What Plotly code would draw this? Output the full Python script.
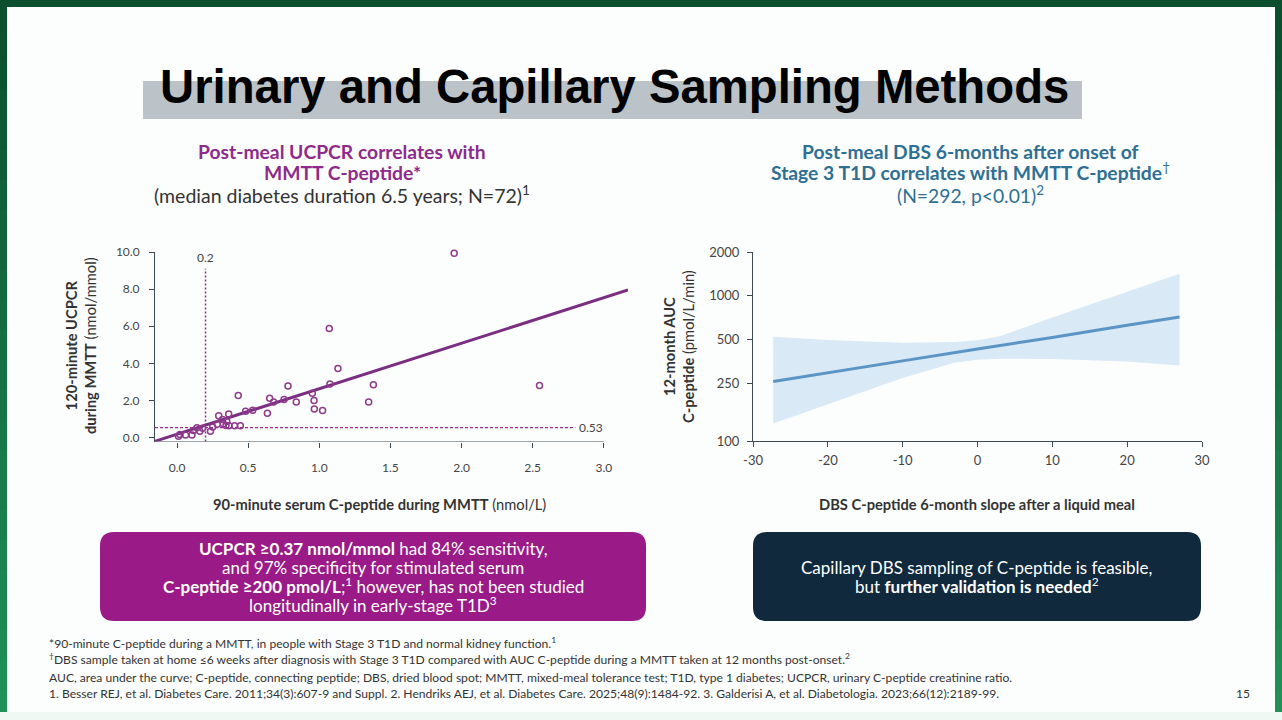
import plotly.graph_objects as go

W = 1282
H = 720
BODY_FONT = "Lato, Open Sans, sans-serif"

# left chart
ucpcr_x = [0.01, 0.02, 0.06, 0.105, 0.115, 0.14, 0.16, 0.18, 0.235, 0.25, 0.283, 0.293,
           0.32, 0.325, 0.35, 0.344, 0.363, 0.365, 0.405, 0.445, 0.43, 0.482, 0.532,
           0.635, 0.651, 0.679, 0.752, 0.78, 0.838, 0.951, 0.963, 0.965, 1.023, 1.07,
           1.075, 1.131, 1.347, 1.38, 1.948, 2.548]
ucpcr_y = [0.07, 0.16, 0.13, 0.14, 0.38, 0.52, 0.34, 0.50, 0.34, 0.56, 0.72, 1.17,
           0.97, 0.74, 0.86, 0.65, 1.26, 0.63, 0.63, 0.63, 2.27, 1.42, 1.47,
           1.31, 2.12, 1.92, 2.05, 2.77, 1.92, 2.39, 2.0, 1.53, 1.46, 5.88,
           2.88, 3.72, 1.92, 2.84, 9.93, 2.80]
fit_x = [-0.155, 3.17]
fit_y = [-0.2, 7.95]
cut_x = [0.2, 0.2]
cut_x_y = [-0.216, 9.1]
cut_y_x = [-0.155, 2.8]
cut_y = [0.53, 0.53]
left_xticks = [0, 0.5, 1, 1.5, 2, 2.5, 3]
left_yticks = [0, 2, 4, 6, 8, 10]

# right chart
slope = [-27.3, -20, -10, 0, 10, 20, 27]
auc = [257, 296, 356, 430, 516, 627, 715]
band_x = [-27.3, -20, -10, -3, 0, 3, 10, 20, 27]
band_upper = [522, 495, 475, 480, 493, 527, 708, 1060, 1415]
band_lower = [132, 178, 271, 347, 362, 369, 367, 352, 331]
right_xticks = [-30, -20, -10, 0, 10, 20, 30]
right_yticks = [100, 250, 500, 1000, 2000]


def px(x):
    return x / W


def py(y):
    return 1 - y / H


def rect(x0, y0, x1, y1, color):
    return dict(type="rect", xref="paper", yref="paper", x0=px(x0), x1=px(x1), y0=py(y0), y1=py(y1),
                fillcolor=color, line_width=0, layer="below")


def round_box(x0, y0, x1, y1, r, color):
    path = (f"M {px(x0 + r)} {py(y0)} L {px(x1 - r)} {py(y0)} Q {px(x1)} {py(y0)} {px(x1)} {py(y0 + r)} "
            f"L {px(x1)} {py(y1 - r)} Q {px(x1)} {py(y1)} {px(x1 - r)} {py(y1)} "
            f"L {px(x0 + r)} {py(y1)} Q {px(x0)} {py(y1)} {px(x0)} {py(y1 - r)} "
            f"L {px(x0)} {py(y0 + r)} Q {px(x0)} {py(y0)} {px(x0 + r)} {py(y0)} Z")
    return dict(type="path", xref="paper", yref="paper", path=path, fillcolor=color, line_width=0, layer="below")


def label(x, y, text, size=13, color="#333333", anchor="center", angle=0, family=BODY_FONT):
    return dict(xref="paper", yref="paper", x=px(x), y=py(y), text=text, showarrow=False,
                xanchor=anchor, yanchor="middle", align=anchor if anchor != "center" else "center",
                textangle=angle, font=dict(family=family, size=size, color=color))


# green frame, darker towards the top
shapes = [rect(0, 0, W, 7, "#0b4f2e")]
for i in range(24):
    t = i / 23
    c = f"rgb({int(11 + t * 22)},{int(79 + t * 66)},{int(46 + t * 43)})"
    y0 = i * 30
    shapes.append(rect(0, y0, 7, y0 + 30, c))
    shapes.append(rect(1275, y0, W, y0 + 30, c))
shapes += [
    rect(0, 712, W, H, "#f0f8f4"),
    rect(143, 81, 1082, 119, "#bcc3c8"),
    round_box(100, 532, 646, 621, 14, "#9a1b87"),
    round_box(753, 532, 1201, 621, 14, "#10293d"),
    dict(type="line", xref="x", yref="y", x0=-0.155, x1=3.0, y0=-0.216, y1=-0.216,
         line=dict(color="#3c4a54", width=1)),
]

PURPLE = "#8e2a8b"
BLUE = "#2f6f93"
annotations = [
    label(614.5, 86, "<b>Urinary and Capillary Sampling Methods</b>", size=47.3, color="#000000",
          family="Liberation Sans, Arial, sans-serif"),
    label(342, 151, "<b>Post-meal UCPCR correlates with</b>", size=19.3, color=PURPLE),
    label(342, 172, "<b>MMTT C-peptide*</b>", size=19.3, color=PURPLE),
    label(342, 195, "(median diabetes duration 6.5 years; N=72)<sup>1</sup>", size=19.5),
    label(970, 151, "<b>Post-meal DBS 6-months after onset of</b>", size=19.3, color=BLUE),
    label(970, 171, "<b>Stage 3 T1D correlates with MMTT C-peptide</b><sup>†</sup>", size=19.3, color=BLUE),
    label(970, 195, "(N=292, p&lt;0.01)<sup>2</sup>", size=19.3, color=BLUE),
    label(80, 346, "<b>120-minute UCPCR</b><br><b>during MMTT</b> (nmol/mmol)", size=14.7, angle=-90),
    label(678, 347, "<b>12-month AUC</b><br><b>C-peptide</b> (pmol/L/min)", size=14.7, angle=-90),
    label(379, 504, "<b>90-minute serum C-peptide during MMTT</b> (nmol/L)", size=14.7),
    label(977, 504, "<b>DBS C-peptide 6-month slope after a liquid meal</b>", size=14.7),
    dict(xref="x", yref="y", x=0.2, y=9.7, text="0.2", showarrow=False,
         font=dict(family=BODY_FONT, size=12, color="#444444")),
    dict(xref="x", yref="y", x=2.8, y=0.53, text="0.53", showarrow=False, xanchor="left", xshift=2,
         font=dict(family=BODY_FONT, size=12, color="#444444")),
    label(373, 548, "<b>UCPCR ≥0.37 nmol/mmol</b> had 84% sensitivity,", size=17, color="#ffffff"),
    label(373, 567, "and 97% specificity for stimulated serum", size=17, color="#ffffff"),
    label(373, 585, "<b>C-peptide ≥200 pmol/L</b>;<sup>1</sup> however, has not been studied", size=17, color="#ffffff"),
    label(373, 604, "longitudinally in early-stage T1D<sup>3</sup>", size=17, color="#ffffff"),
    label(977, 567, "Capillary DBS sampling of C-peptide is feasible,", size=17, color="#ffffff"),
    label(977, 585, "but <b>further validation is needed</b><sup>2</sup>", size=17, color="#ffffff"),
    label(47, 643, "*90-minute C-peptide during a MMTT, in people with Stage 3 T1D and normal kidney function.<sup>1</sup>",
          size=12.1, anchor="left"),
    label(47, 659, "<sup>†</sup>DBS sample taken at home ≤6 weeks after diagnosis with Stage 3 T1D compared with AUC C-peptide during a MMTT taken at 12 months post-onset.<sup>2</sup>",
          size=12.1, anchor="left"),
    label(47, 677, "AUC, area under the curve; C-peptide, connecting peptide; DBS, dried blood spot; MMTT, mixed-meal tolerance test; T1D, type 1 diabetes; UCPCR, urinary C-peptide creatinine ratio.",
          size=12.1, anchor="left"),
    label(47, 693, "1. Besser REJ, et al. Diabetes Care. 2011;34(3):607-9 and Suppl. 2. Hendriks AEJ, et al. Diabetes Care. 2025;48(9):1484-92. 3. Galderisi A, et al. Diabetologia. 2023;66(12):2189-99.",
          size=12.1, anchor="left"),
    label(1243, 693, "15", size=12),
]

fig = go.Figure()
fig.add_trace(go.Scatter(x=cut_x, y=cut_x_y, mode="lines", line=dict(color="#8a2a85", width=1.5, dash="2px,2px"),
                         xaxis="x", yaxis="y"))
fig.add_trace(go.Scatter(x=cut_y_x, y=cut_y, mode="lines", line=dict(color="#a0288f", width=1.2, dash="3px,2px"),
                         xaxis="x", yaxis="y"))
fig.add_trace(go.Scatter(x=fit_x, y=fit_y, mode="lines", line=dict(color="#7b2d82", width=3),
                         cliponaxis=False, xaxis="x", yaxis="y"))
fig.add_trace(go.Scatter(x=ucpcr_x, y=ucpcr_y, mode="markers", cliponaxis=False,
                         marker=dict(symbol="circle-open", size=6, color="#8e3b8c", line=dict(width=1.5)),
                         xaxis="x", yaxis="y"))

fig.add_trace(go.Scatter(x=band_x + band_x[::-1], y=band_upper + band_lower[::-1], mode="lines", fill="toself",
                         fillcolor="#d9e9f5", line=dict(width=0), xaxis="x2", yaxis="y2"))
fig.add_trace(go.Scatter(x=slope, y=auc, mode="lines", line=dict(color="#5b95c5", width=3), xaxis="x2", yaxis="y2"))

axis_style = dict(showgrid=False, zeroline=False, showline=True, linecolor="#3c4a54", linewidth=1,
                  ticks="outside", ticklen=5, tickcolor="#3c4a54", automargin=False,
                  tickfont=dict(family=BODY_FONT, size=12, color="#444444"))
right_axis_style = {**axis_style, "tickfont": dict(family=BODY_FONT, size=13, color="#444444")}

fig.update_layout(
    width=W,
    height=H,
    autosize=False,
    margin=dict(l=0, r=0, t=0, b=0, autoexpand=False),
    paper_bgcolor="#fcfefd",
    plot_bgcolor="rgba(0,0,0,0)",
    showlegend=False,
    shapes=shapes,
    annotations=annotations,
    # x axis runs on to the end of the fit line, its base line stops at 3.0 (see shapes)
    xaxis=dict(domain=[px(155), px(628)], range=[-0.155, 3.17], tickvals=left_xticks, tickformat=".1f",
               ticklabelstandoff=10, anchor="y", **{**axis_style, "showline": False}),
    yaxis=dict(domain=[py(441.5), py(252)], range=[-0.216, 10], tickvals=left_yticks, tickformat=".1f",
               ticklabelstandoff=7, anchor="x", **axis_style),
    xaxis2=dict(domain=[px(753), px(1202)], range=[-30, 30], tickvals=right_xticks,
                ticktext=[str(v) for v in right_xticks], ticklabelstandoff=2, anchor="y2", **right_axis_style),
    yaxis2=dict(domain=[py(441), py(252)], type="log", range=[2, 3.30103], tickvals=right_yticks,
                ticktext=[str(v) for v in right_yticks], ticklabelstandoff=5, anchor="x2", **right_axis_style),
)

fig.write_html(
    "out.html",
    config=dict(displayModeBar=False, responsive=False),
    default_width=f"{W}px",
    default_height=f"{H}px",
    post_script="document.body.style.margin='0';document.documentElement.style.overflow='hidden';",
)
